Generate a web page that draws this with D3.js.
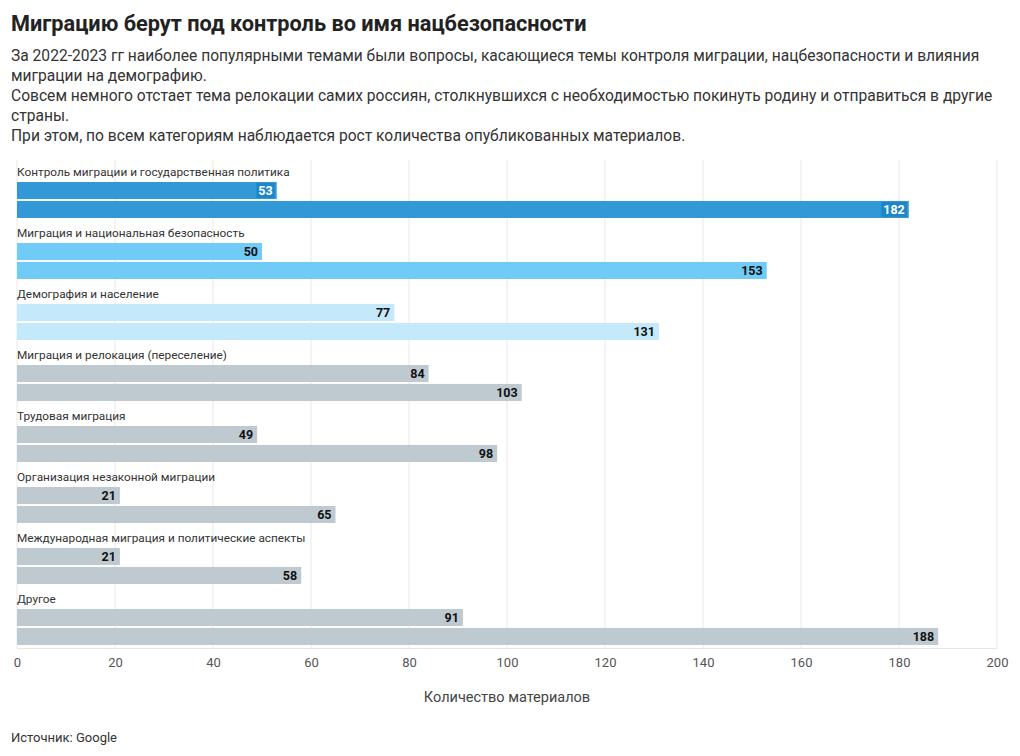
<!DOCTYPE html>
<html><head><meta charset="utf-8">
<script src="https://cdn.jsdelivr.net/npm/d3@7"></script>
<style>
body{margin:0;background:#fff;}
svg text{font-family:Roboto,"Noto Sans",sans-serif;}
</style></head>
<body><svg id="c" width="1020" height="756"></svg>
<script>
const categories = ["Контроль миграции и государственная политика","Миграция и национальная безопасность","Демография и население","Миграция и релокация (переселение)","Трудовая миграция","Организация незаконной миграции","Международная миграция и политические аспекты","Другое"];
const series = ["2022","2023"];
const values2022 = [53,50,77,84,49,21,21,91];
const values2023 = [182,153,131,103,98,65,58,188];
const xTicks = [0,20,40,60,80,100,120,140,160,180,200];
const title = "Миграцию берут под контроль во имя нацбезопасности";
const subtitleLines = ["За 2022-2023 гг наиболее популярными темами были вопросы, касающиеся темы контроля миграции, нацбезопасности и влияния","миграции на демографию.","Совсем немного отстает тема релокации самих россиян, столкнувшихся с необходимостью покинуть родину и отправиться в другие","страны.","При этом, по всем категориям наблюдается рост количества опубликованных материалов."];
const xTitle = "Количество материалов";
const source = "Источник: Google";
const colors = ["#3399d6","#70cbf6","#c3e9fb","#bfc9d0","#bfc9d0","#bfc9d0","#bfc9d0","#bfc9d0"];

const svg = d3.select("#c");
const x = d3.scaleLinear().domain([0,200]).range([17,997]);
const y = d3.scaleBand().domain(categories).range([160,648]);
const yi = d3.scaleBand().domain(series).range([22,58]).paddingInner(0.1);

svg.append("text").attr("x",11).attr("y",31).attr("font-size",21.7).attr("font-weight",700).attr("fill","#222").text(title);
svg.selectAll("text.sub").data(subtitleLines).join("text").attr("class","sub")
  .attr("x",11).attr("y",(d,i)=>61+i*20).attr("font-size",15.6).attr("fill","#333").text(d=>d);

// grid
svg.append("g").selectAll("line").data(xTicks).join("line")
  .attr("x1",d=>x(d)).attr("x2",d=>x(d)).attr("y1",160).attr("y2",648)
  .attr("stroke","#e8e8e8").attr("stroke-width",1);
svg.append("line").attr("x1",17).attr("x2",997).attr("y1",648.5).attr("y2",648.5).attr("stroke","#e6e6e6");

const ax = svg.append("g").attr("transform","translate(0,648)")
  .call(d3.axisBottom(x).tickValues(xTicks).tickSize(0).tickPadding(10));
ax.select(".domain").remove();
ax.selectAll("text").attr("font-size",13).attr("fill","#555").style("font-family","Roboto");

const rows = categories.map((c,i)=>({cat:c,color:colors[i],vals:[values2022[i],values2023[i]],idx:i}));
const g = svg.selectAll("g.grp").data(rows).join("g").attr("class","grp")
  .attr("transform",d=>`translate(0,${y(d.cat)})`);
g.append("text").attr("x",17).attr("y",16).attr("font-size",11.8).attr("fill","#333").text(d=>d.cat);
const bars = g.selectAll("g.bar").data(d=>d.vals.map((v,j)=>({v,s:series[j],color:d.color,idx:d.idx}))).join("g").attr("class","bar");
bars.append("rect").attr("x",x(0)).attr("y",d=>yi(d.s)).attr("width",d=>x(d.v)-x(0)).attr("height",yi.bandwidth()).attr("fill",d=>d.color);
bars.each(function(d){
  const sel = d3.select(this);
  const t = sel.append("text").attr("x",x(d.v)-4).attr("y",yi(d.s)+yi.bandwidth()/2).attr("dy","0.35em")
    .attr("text-anchor","end").attr("font-size",12.5).attr("font-weight",700)
    .attr("fill",d.idx===0?"#fff":"#111").text(d.v);
  if(d.idx===0){
    const bb = t.node().getBBox();
    sel.insert("rect","text").attr("x",bb.x-2).attr("y",bb.y).attr("width",bb.width+4).attr("height",bb.height).attr("fill","#1f86c6");
  }
});

svg.append("text").attr("x",507).attr("y",702).attr("text-anchor","middle").attr("font-size",14.5).attr("fill","#444").text(xTitle);
svg.append("text").attr("x",11).attr("y",742).attr("font-size",13).attr("fill","#333").text(source);
</script></body></html>
